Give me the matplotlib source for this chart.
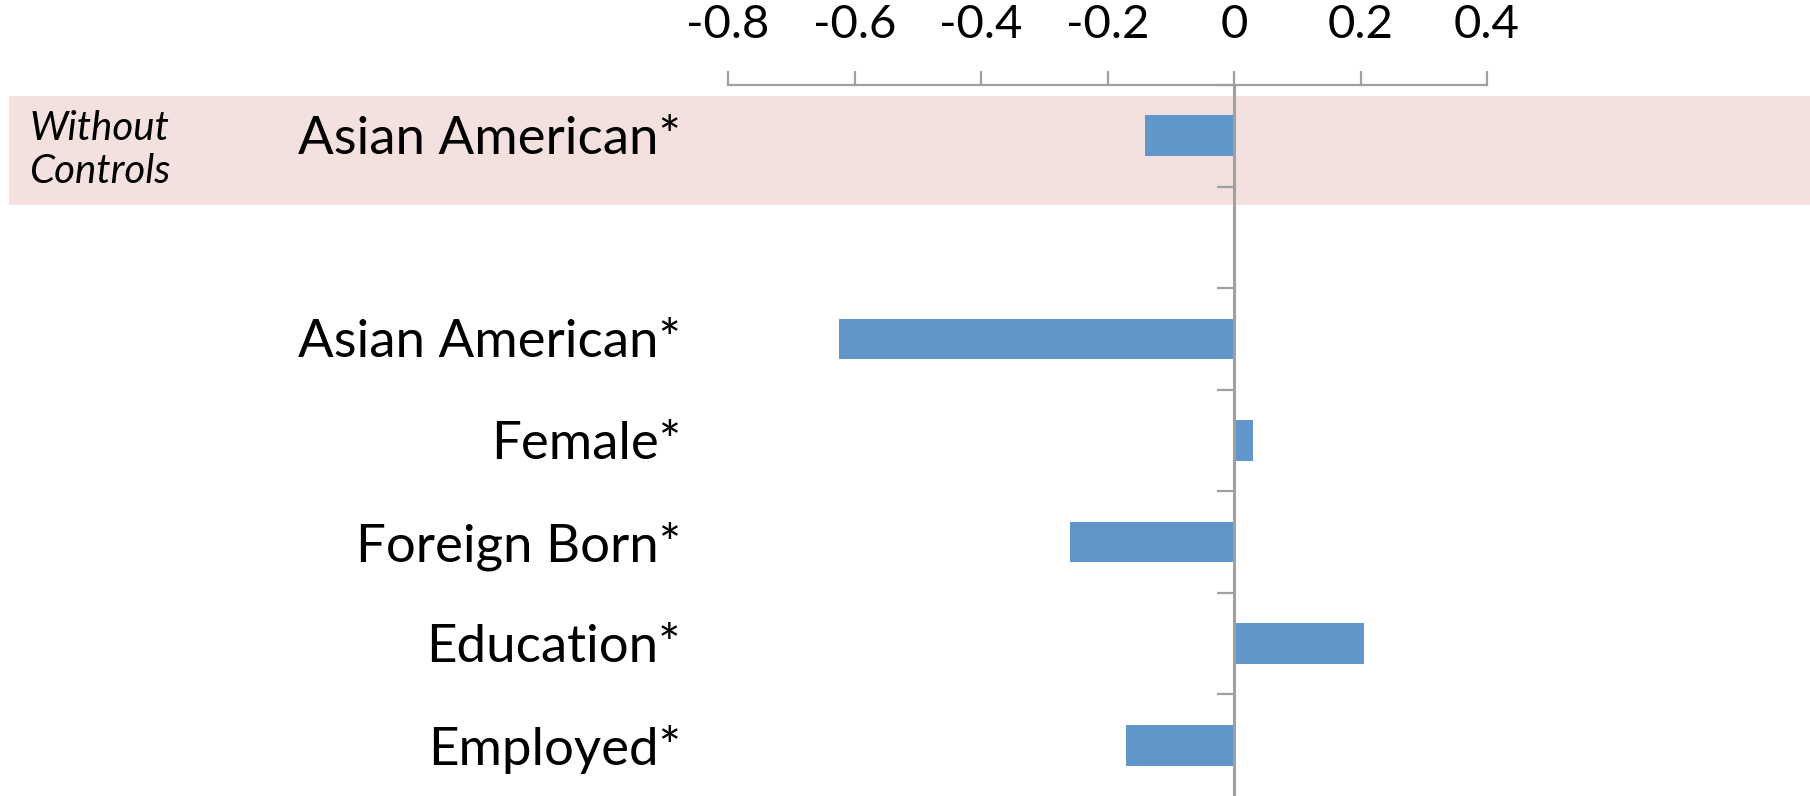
"""Horizontal bar chart: coefficients with and without controls."""
import matplotlib
matplotlib.use("Agg")
import matplotlib.pyplot as plt
from matplotlib.patches import Rectangle
from matplotlib.transforms import blended_transform_factory

categories = ["Asian American*", "", "Asian American*", "Female*",
              "Foreign Born*", "Education*", "Employed*"]
values = [-0.14, None, -0.625, 0.03, -0.26, 0.205, -0.17]
x_ticks = [-0.8, -0.6, -0.4, -0.2, 0, 0.2, 0.4]
x_tick_labels = ["-0.8", "-0.6", "-0.4", "-0.2", "0", "0.2", "0.4"]
group_label = "Without\nControls"

BAR = "#6096C9"
AXIS = "#A0A0A0"
BAND = "#F3E1E0"

plt.rcParams["font.family"] = ["Lato", "DejaVu Sans"]

fig = plt.figure(figsize=(18.10, 7.96), dpi=100)
ax = fig.add_axes([728 / 1810, 0.0, (1487 - 728) / 1810, 1 - 85 / 796])
ax.set_facecolor("none")

pos = list(range(len(categories)))
for y, v in zip(pos, values):
    if v is not None:
        ax.barh(y, v, height=0.4, color=BAR, zorder=2)

ax.set_xlim(-0.8, 0.4)
ax.set_ylim(len(categories) - 0.5, -0.5)

# shaded band behind the "without controls" row
band_tr = blended_transform_factory(fig.transFigure, ax.transData)
ax.add_patch(Rectangle((9 / 1810, -0.39), 1.0, 1.07, transform=band_tr,
                       facecolor=BAND, edgecolor="none", zorder=0,
                       clip_on=False))

# top axis
for s in ["bottom", "right"]:
    ax.spines[s].set_visible(False)
ax.spines["top"].set_color(AXIS)
ax.spines["top"].set_linewidth(1.6)
ax.spines["top"].set_bounds(-0.8, 0.4)
ax.xaxis.tick_top()
ax.set_xticks(x_ticks)
ax.set_xticklabels(x_tick_labels, fontsize=34)
ax.tick_params(axis="x", direction="out", length=10, width=1.6,
               color=AXIS, pad=18)

# zero line as y axis with slot ticks
ax.spines["left"].set_position(("data", 0))
ax.spines["left"].set_color(AXIS)
ax.spines["left"].set_linewidth(2.2)
ax.spines["left"].set_zorder(3)
ax.set_yticks([p - 0.5 for p in pos])
ax.set_yticklabels([])
ax.tick_params(axis="y", direction="out", length=12, width=1.6, color=AXIS)

lab_tr = blended_transform_factory(fig.transFigure, ax.transData)
for y, c in zip(pos, categories):
    if c:
        ax.text(681 / 1810, y + 0.04, c, transform=lab_tr, ha="right",
                va="center", fontsize=38, color="black")
ax.text(29 / 1810, 0.14, group_label, transform=lab_tr, ha="left",
        va="center", fontsize=29, style="italic", linespacing=1.2)

fig.savefig("out.png", dpi=100)
